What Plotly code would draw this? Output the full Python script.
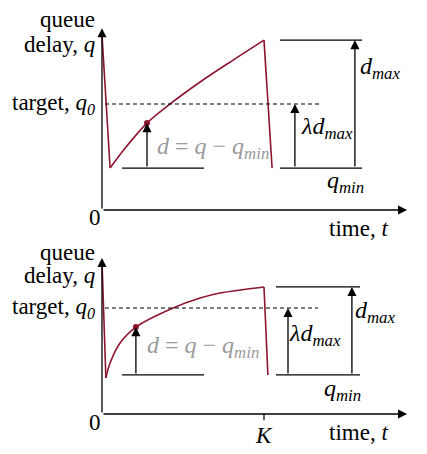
import plotly.graph_objects as go

# time axis (t) and queue-delay axis (q) values
top_t = [0, 0.27, 0.8, 1.5, 2.27, 3.27, 4.37, 5.4, 5.67]
top_q = [9.72, 2.33, 3.5, 4.83, 5.89, 7.11, 8.33, 9.44, 2.33]
bot_t = [0, 0.13, 0.27, 0.6, 1.13, 2.37, 3.27, 3.93, 5.4, 5.53]
bot_q = [8.44, 2.0, 2.83, 3.94, 4.83, 5.89, 6.44, 6.72, 7.06, 2.17]

top_target, bot_target = 5.89, 5.89
top_qmin, bot_qmin = 2.33, 2.17
top_qmax, bot_qmax = 9.44, 7.06
top_pt = (1.5, 4.83)
bot_pt = (1.13, 4.83)
K = 5.4

red = "#8e1530"
serif = "Liberation Serif, DejaVu Serif, Times New Roman, serif"

fig = go.Figure()


def panel(ya, ts, qs, target, qmin, qmax, pt, ytop, dmax_x, lam_x, right, show_k):
    # curve: drop, rise, drop
    fig.add_trace(go.Scatter(x=ts[:2], y=qs[:2], mode="lines", line=dict(color=red, width=1.6), yaxis=ya))
    fig.add_trace(go.Scatter(x=ts[1:-1], y=qs[1:-1], mode="lines", line=dict(color=red, width=1.6, shape="spline"), yaxis=ya))
    fig.add_trace(go.Scatter(x=ts[-2:], y=qs[-2:], mode="lines", line=dict(color=red, width=1.6), yaxis=ya))
    # target line
    fig.add_trace(go.Scatter(x=[0.1, right[1] - 1.4], y=[target, target], mode="lines",
                             line=dict(color="black", width=1.2, dash="4px,3px"), yaxis=ya))
    # baseline under d
    fig.add_trace(go.Scatter(x=[0.67, 3.4], y=[qmin, qmin], mode="lines", line=dict(color="black", width=1.2), yaxis=ya))
    # right-hand reference lines
    for v in (qmin, qmax):
        fig.add_trace(go.Scatter(x=right, y=[v, v], mode="lines", line=dict(color="black", width=1.2), yaxis=ya))
    fig.add_trace(go.Scatter(x=[pt[0]], y=[pt[1]], mode="markers", marker=dict(color=red, size=6), yaxis=ya))
    if show_k:
        fig.add_trace(go.Scatter(x=[K, K], y=[0, -0.35], mode="lines", line=dict(color="black", width=1.2), yaxis=ya))

    arrows = [
        (0, ytop, 0, 0),
        (10.17, 0, 0, 0),
        (pt[0], pt[1], pt[0], qmin),
        (dmax_x, qmax, dmax_x, qmin),
        (lam_x, target, lam_x, qmin),
    ]
    for x, y, ax, ay in arrows:
        fig.add_annotation(x=x, y=y, ax=ax, ay=ay, xref="x", yref=ya, axref="x", ayref=ya,
                           text="", showarrow=True, arrowhead=2, arrowsize=1.4, arrowwidth=1.3,
                           arrowcolor="black", standoff=0, startstandoff=0)


panel("y", top_t, top_q, top_target, top_qmin, top_qmax, top_pt, 10.1, 8.43, 6.43, [5.93, 8.67], False)
panel("y2", bot_t, bot_q, bot_target, bot_qmin, bot_qmax, bot_pt, 8.67, 8.33, 6.2, [5.8, 8.6], True)

f = dict(family=serif, size=23, color="black")
fm = dict(family=serif, size=24, color="black")
fg = dict(family=serif, size=24, color="#9a9a9a")


def lab(x, y, yref, text, xanchor="center", font=f):
    fig.add_annotation(x=x, y=y, xref="x", yref=yref, text=text, showarrow=False,
                       xanchor=xanchor, yanchor="middle", font=font)


for yref, q_queue, q_delay, tgt, zero_q, time_q, dlab, dmx, lam, qmn in [
    ("y", 10.6, 9.17, top_target, -0.39, -1.0, (3.7, 3.44), (9.27, 7.89), (7.5, 4.56), (8.13, 1.56)),
    ("y2", 8.95, 7.67, bot_target, -0.45, -1.0, (3.38, 3.72), (9.1, 5.67), (7.1, 4.39), (8.03, 1.33)),
]:
    lab(-0.17, q_queue, yref, "queue", "right")
    lab(-0.17, q_delay, yref, "delay, <i>q</i>", "right")
    lab(-0.17, tgt, yref, "target, <i>q</i><sub><i>0</i></sub>", "right")
    lab(-0.23, zero_q, yref, "0")
    lab(8.55, time_q, yref, "time, <i>t</i>")
    lab(dlab[0], dlab[1], yref, "<i>d</i> = <i>q</i> − <i>q</i><sub><i>min</i></sub>", font=fg)
    lab(dmx[0], dmx[1], yref, "<i>d</i><sub><i>max</i></sub>", font=fm)
    lab(lam[0], lam[1], yref, "<i>λd</i><sub><i>max</i></sub>", font=fm)
    lab(qmn[0], qmn[1], yref, "<i>q</i><sub><i>min</i></sub>", font=fm)

lab(K, -1.2, "y2", "<i>K</i>")

# the page adds an 8px body margin, so the figure is drawn 8px smaller
fig.update_layout(
    width=419, height=446, margin=dict(l=0, r=0, t=0, b=0),
    paper_bgcolor="white", plot_bgcolor="white", showlegend=False,
    xaxis=dict(domain=[0, 1], range=[-3.133, 10.833], visible=False),
    yaxis=dict(domain=[0.491, 1], range=[-1.389, 11.222], visible=False),
    yaxis2=dict(domain=[0, 0.491], range=[-2.222, 9.944], visible=False, anchor="x"),
)

fig.write_html("out.html")
